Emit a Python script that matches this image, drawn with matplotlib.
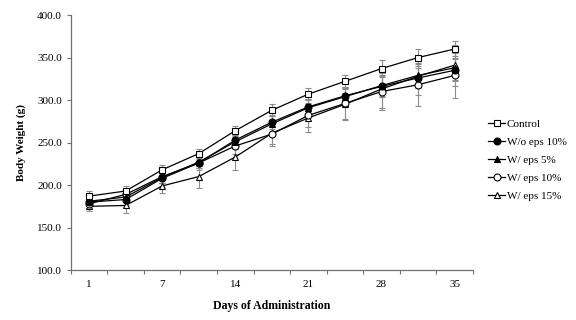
import matplotlib
matplotlib.use("Agg")
import matplotlib.pyplot as plt
import numpy as np

plt.rcParams['font.family'] = ['Liberation Serif', 'DejaVu Serif']

days = ['1', '4', '7', '11', '14', '18', '21', '25', '28', '32', '35']
shown_days = ['1', '7', '14', '21', '28', '35']

control = [187, 193, 218, 237, 264, 288, 307, 322, 337, 350, 360]
wo_eps10 = [180, 183, 208, 226, 253, 274, 292, 305, 316, 326, 335]
w_eps5 = [181, 186, 209, 227, 251, 272, 291, 304, 317, 329, 338]
w_eps10 = [178, 189, 210, 226, 246, 260, 282, 296, 310, 318, 329]
w_eps15 = [175, 176, 199, 210, 233, 261, 279, 295, 313, 328, 341]

err_control = [6, 6, 6, 6, 6, 7, 7, 8, 10, 10, 10]
err_wo_eps10 = [5, 6, 6, 6, 8, 8, 9, 10, 12, 12, 13]
err_w_eps5 = [5, 6, 7, 7, 8, 9, 10, 11, 12, 13, 14]
err_w_eps10 = [5, 6, 7, 8, 10, 12, 14, 18, 22, 25, 26]
err_w_eps15 = [6, 9, 8, 13, 15, 15, 16, 18, 22, 22, 24]

labels = ['Control', 'W/o eps 10%', 'W/ eps 5%', 'W/ eps 10%', 'W/ eps 15%']
series = [control, wo_eps10, w_eps5, w_eps10, w_eps15]
errors = [err_control, err_wo_eps10, err_w_eps5, err_w_eps10, err_w_eps15]
markers = ['s', 'o', '^', 'o', '^']
faces = ['white', 'black', 'black', 'white', 'white']

fig = plt.figure(figsize=(5.76, 3.2), dpi=100)
ax = fig.add_axes([0.123, 0.156, 0.698, 0.797])

x = np.arange(len(days))
for i in range(len(series)):
    ax.errorbar(x, series[i], yerr=errors[i], fmt='none', ecolor='#8c8c8c',
                elinewidth=0.8, capsize=2, capthick=0.8, zorder=1)
for i in range(len(series) - 1, -1, -1):
    ax.plot(x, series[i], color='black', linewidth=0.9, marker=markers[i],
            markersize=5, markerfacecolor=faces[i], markeredgecolor='black',
            markeredgewidth=0.8, label=labels[i], zorder=2 + (len(series) - i))

ax.set_xlim(-0.5, len(days) - 0.5)
ax.set_ylim(100, 400)
ax.set_yticks(np.arange(100, 401, 50))
ax.set_yticklabels(['%.1f' % v for v in np.arange(100, 401, 50)], fontsize=8)

ax.set_xticks(np.arange(-0.5, len(days), 1.0))
ax.set_xticklabels([])
pos = [days.index(d) for d in shown_days]
ax.set_xticks(pos, minor=True)
ax.set_xticklabels(shown_days, minor=True, fontsize=8)
ax.tick_params(axis='x', which='minor', length=0, pad=7)
ax.tick_params(axis='both', which='major', direction='out', length=3,
               width=0.8, color='#707070')

for s in ['top', 'right']:
    ax.spines[s].set_visible(False)
for s in ['left', 'bottom']:
    ax.spines[s].set_color('#707070')
    ax.spines[s].set_linewidth(0.9)

ax.set_ylabel('Body Weight (g)', fontsize=8, fontweight='bold', labelpad=8)
ax.set_xlabel('Days of Administration', fontsize=8.5, fontweight='bold', labelpad=8)

h, l = ax.get_legend_handles_labels()
fig.legend(h[::-1], l[::-1], loc='center left', bbox_to_anchor=(0.848, 0.5),
           frameon=False, fontsize=8, handlelength=1.5, handletextpad=0.15,
           labelspacing=0.75, borderpad=0, borderaxespad=0)

fig.savefig('out.png', dpi=100)
